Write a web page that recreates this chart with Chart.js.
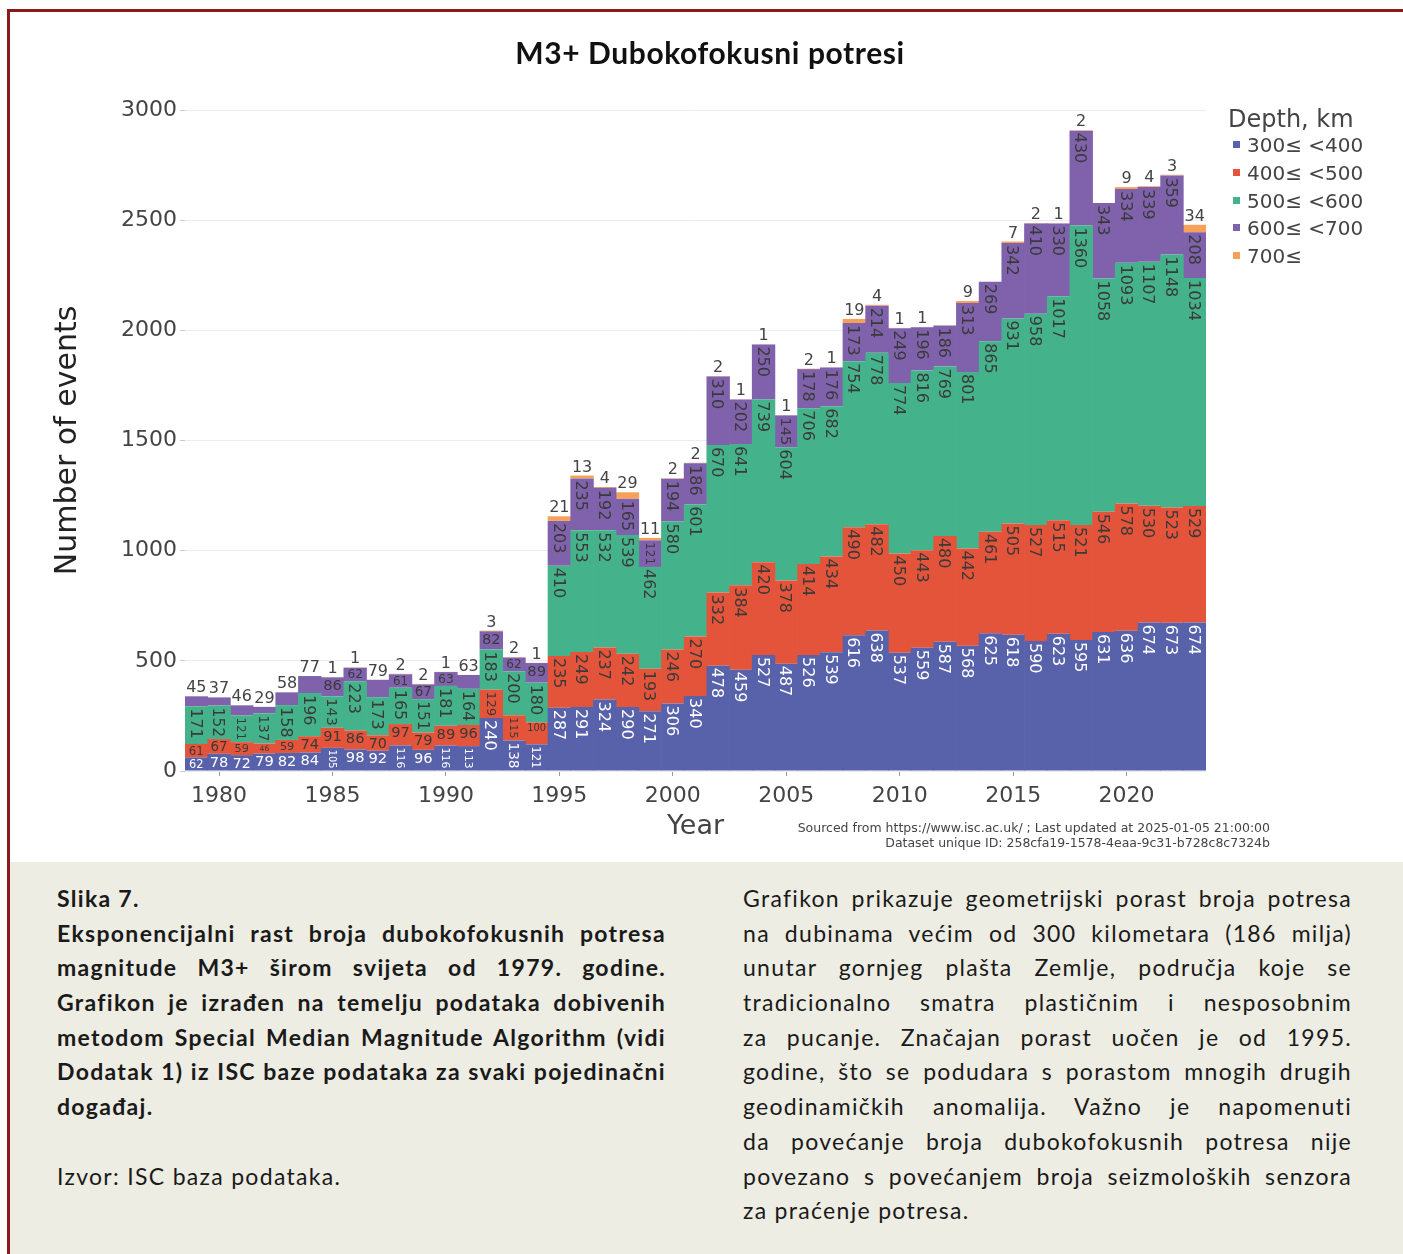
<!DOCTYPE html>
<html>
<head>
<meta charset="utf-8">
<script src="https://cdn.jsdelivr.net/npm/chart.js@4.4.1/dist/chart.umd.min.js"></script>
<style>
  html, body { margin: 0; padding: 0; background: #fff; }
  #page { position: relative; width: 1403px; height: 1254px; overflow: hidden; background: #fff; }
  #frame { position: absolute; left: 7px; top: 9px; width: 1410px; height: 1260px;
           border-top: 3px solid #8c1a1a; border-left: 3px solid #8c1a1a; }
  #chartBox { position: absolute; left: 0; top: 0; width: 1403px; height: 860px; }
  #title { position: absolute; top: 34px; left: 0; width: 1420px; text-align: center;
           font: 700 30px Lato, sans-serif; letter-spacing: 0.6px; color: #111; }
  #legend { position: absolute; left: 1228px; top: 0; font-family: 'DejaVu Sans', sans-serif; color: #444; }
  #legend .head { position: absolute; left: 0; top: 104px; font-size: 24px; line-height: 30px; white-space: nowrap; }
  #legend .item { position: absolute; left: 5px; height: 28px; line-height: 28px; font-size: 20px; white-space: nowrap; }
  #legend .sw { display: inline-block; width: 7px; height: 7px; margin-right: 7px; vertical-align: middle; position: relative; top: -2px; }
  #source { position: absolute; right: 133px; top: 820px; text-align: right; font: 12.5px/15px 'DejaVu Sans', sans-serif; color: #444; }
  #panel { position: absolute; left: 10px; top: 862px; width: 1400px; height: 400px; background: #ededE3; }
  .col { position: absolute; top: 881px; width: 609px; font-family: Lato, sans-serif; font-size: 23px; line-height: 34.7px;
         letter-spacing: 1.3px; color: #1a1a1a; }
  .col div { white-space: nowrap; height: 34.7px; }
  .j { text-align: justify; text-align-last: justify; }
  .b { font-weight: 700; }
</style>
</head>
<body>
<div id="page">
  <div id="panel"></div>
  <div id="frame"></div>
  <div id="chartBox"><canvas id="chart" width="1403" height="860"></canvas></div>
  <div id="title">M3+ Dubokofokusni potresi</div>
  <div id="legend"></div>
  <div id="source">Sourced from https://www.isc.ac.uk/ ; Last updated at 2025-01-05 21:00:00<br>Dataset unique ID: 258cfa19-1578-4eaa-9c31-b728c8c7324b</div>

  <div class="col b" style="left:57px">
    <div>Slika 7.</div>
    <div class="j">Eksponencijalni rast broja dubokofokusnih potresa</div>
    <div class="j">magnitude M3+ širom svijeta od 1979. godine.</div>
    <div class="j">Grafikon je izrađen na temelju podataka dobivenih</div>
    <div class="j">metodom Special Median Magnitude Algorithm (vidi</div>
    <div class="j">Dodatak 1) iz ISC baze podataka za svaki pojedinačni</div>
    <div>događaj.</div>
    <div></div>
    <div style="font-weight:400">Izvor: ISC baza podataka.</div>
  </div>

  <div class="col" style="left:743px">
    <div class="j">Grafikon prikazuje geometrijski porast broja potresa</div>
    <div class="j">na dubinama većim od 300 kilometara (186 milja)</div>
    <div class="j">unutar gornjeg plašta Zemlje, područja koje se</div>
    <div class="j">tradicionalno smatra plastičnim i nesposobnim</div>
    <div class="j">za pucanje. Značajan porast uočen je od 1995.</div>
    <div class="j">godine, što se podudara s porastom mnogih drugih</div>
    <div class="j">geodinamičkih anomalija. Važno je napomenuti</div>
    <div class="j">da povećanje broja dubokofokusnih potresa nije</div>
    <div class="j">povezano s povećanjem broja seizmoloških senzora</div>
    <div>za praćenje potresa.</div>
  </div>
</div>

<script>
// years on the x axis
const years = [1979, 1980, 1981, 1982, 1983, 1984, 1985, 1986, 1987, 1988,
  1989, 1990, 1991, 1992, 1993, 1994, 1995, 1996, 1997, 1998,
  1999, 2000, 2001, 2002, 2003, 2004, 2005, 2006, 2007, 2008,
  2009, 2010, 2011, 2012, 2013, 2014, 2015, 2016, 2017, 2018,
  2019, 2020, 2021, 2022, 2023];

// event counts per depth band
const depth300 = [62, 78, 72, 79, 82, 84, 105, 98, 92, 116,
  96, 116, 113, 240, 138, 121, 287, 291, 324, 290,
  271, 306, 340, 478, 459, 527, 487, 526, 539, 616,
  638, 537, 559, 587, 568, 625, 618, 590, 623, 595,
  631, 636, 674, 673, 674];
const depth400 = [61, 67, 59, 46, 59, 74, 91, 86, 70, 97,
  79, 89, 96, 129, 115, 100, 235, 249, 237, 242,
  193, 246, 270, 332, 384, 420, 378, 414, 434, 490,
  482, 450, 443, 480, 442, 461, 505, 527, 515, 521,
  546, 578, 530, 523, 529];
const depth500 = [171, 152, 121, 137, 158, 196, 143, 223, 173, 165,
  151, 181, 164, 183, 200, 180, 410, 553, 532, 539,
  462, 580, 601, 670, 641, 739, 604, 706, 682, 754,
  778, 774, 816, 769, 801, 865, 931, 958, 1017, 1360,
  1058, 1093, 1107, 1148, 1034];
const depth600 = [45, 37, 46, 29, 58, 77, 86, 62, 79, 61,
  67, 63, 63, 82, 62, 89, 203, 235, 192, 165,
  121, 194, 186, 310, 202, 250, 145, 178, 176, 173,
  214, 249, 196, 186, 313, 269, 342, 410, 330, 430,
  343, 334, 339, 359, 208];
const depth700 = [null, null, null, null, null, null, 1, 1, null, 2,
  2, 1, null, 3, 2, 1, 21, 13, 4, 29,
  11, 2, 2, 2, 1, 1, 1, 2, 1, 19,
  4, 1, 1, null, 9, null, 7, 2, 1, 2,
  null, 9, 4, 3, 34];

const seriesNames = ['300\u2264 <400', '400\u2264 <500', '500\u2264 <600', '600\u2264 <700', '700\u2264'];
const seriesData = [depth300, depth400, depth500, depth600, depth700];
const seriesColors = ['#5762ab', '#e4543a', '#44b38b', '#7f62ab', '#f6a05a'];

const yTicks = [0, 500, 1000, 1500, 2000, 2500, 3000];

// legend (html)
const legend = document.getElementById('legend');
legend.innerHTML = '<div class="head">Depth, km</div>' + seriesNames.map((name, i) =>
  '<div class="item" style="top:' + (131 + i * 27.8) + 'px"><span class="sw" style="background:' +
  seriesColors[i] + '"></span>' + name + '</div>').join('');

const FONT = "'DejaVu Sans', sans-serif";
const BAR_PCT = 1.03;

// value labels drawn inside / above each segment, plotly-like 'auto' placement
const segLabels = {
  id: 'segLabels',
  afterDatasetsDraw(chart) {
    const ctx = chart.ctx;
    const FS = 16, PAD = 2;
    const dsets = chart.data.datasets;
    for (let j = 0; j < years.length; j++) {
      let topIdx = -1;
      dsets.forEach((ds, i) => { if (ds.data[j]) topIdx = i; });
      dsets.forEach((ds, i) => {
        const v = ds.data[j];
        if (!v) return;
        const el = chart.getDatasetMeta(i).data[j];
        const txt = String(v);
        const yTop = Math.min(el.y, el.base), yBot = Math.max(el.y, el.base);
        const w = el.width / BAR_PCT - 2 * PAD, h = yBot - yTop - 2 * PAD;
        ctx.save();
        ctx.font = FS + 'px ' + FONT;
        const tw = ctx.measureText(txt).width, th = FS * 0.8;
        const color = i === 0 ? '#ffffff' : '#3a3a3a';
        let mode, s = 1;
        if (tw <= w && th <= h) mode = 'h';
        else if (th <= w && tw <= h) mode = 'r';
        else if (i === topIdx) mode = 'out';
        else {
          const sH = Math.min(w / tw, h / th), sR = Math.min(w / th, h / tw);
          // lean slightly towards rotated text when both are close
          if (sH > sR * 1.035) { mode = 'h'; s = sH; } else { mode = 'r'; s = sR; }
        }
        const fs = FS * Math.min(s, 1);
        ctx.font = fs + 'px ' + FONT;
        const cap = fs * 0.73;
        if (mode === 'out') {
          ctx.fillStyle = '#444';
          ctx.textAlign = 'center';
          ctx.textBaseline = 'alphabetic';
          ctx.fillText(txt, el.x, yTop - 4);
        } else if (mode === 'h') {
          ctx.fillStyle = color;
          ctx.textAlign = 'center';
          ctx.textBaseline = 'alphabetic';
          ctx.fillText(txt, el.x, yTop + PAD + cap);
        } else {
          ctx.fillStyle = color;
          ctx.translate(el.x, yTop + PAD);
          ctx.rotate(Math.PI / 2);
          ctx.textAlign = 'left';
          ctx.textBaseline = 'alphabetic';
          ctx.fillText(txt, 0, cap / 2);
        }
        ctx.restore();
      });
    }
  }
};

new Chart(document.getElementById('chart').getContext('2d'), {
  type: 'bar',
  data: {
    labels: years,
    datasets: seriesData.map((d, i) => ({
      label: seriesNames[i],
      data: d,
      backgroundColor: seriesColors[i],
      borderWidth: 0,
      barPercentage: BAR_PCT,
      categoryPercentage: 1
    }))
  },
  options: {
    responsive: false,
    animation: false,
    layout: { padding: { left: 50, top: 110, right: 197, bottom: 17 } },
    plugins: { legend: { display: false }, tooltip: { enabled: false } },
    scales: {
      x: {
        stacked: true,
        offset: true,
        grid: { display: true, drawOnChartArea: false, offset: false, tickLength: 5, color: '#999' },
        border: { display: false },
        ticks: {
          autoSkip: false, maxRotation: 0, padding: 7, color: '#444',
          font: { family: FONT, size: 22 },
          callback: (v, i) => (years[i] % 5 === 0 ? String(years[i]) : null)
        },
        title: { display: true, text: 'Year', color: '#444', font: { family: FONT, size: 27 }, padding: 0 },
        afterFit: s => { s.height = 72; }
      },
      y: {
        stacked: true,
        min: yTicks[0],
        max: yTicks[yTicks.length - 1],
        afterBuildTicks: s => { s.ticks = yTicks.map(v => ({ value: v })); },
        grid: { color: '#ececec', tickLength: 5, tickColor: '#cccccc' },
        border: { display: false },
        ticks: { padding: 3, color: '#444', font: { family: FONT, size: 22 }, callback: v => String(v) },
        title: { display: true, text: 'Number of events', color: '#222', font: { family: FONT, size: 30 }, padding: 0 },
        afterFit: s => { s.width = 135; }
      }
    }
  },
  plugins: [segLabels]
});
</script>
</body>
</html>
